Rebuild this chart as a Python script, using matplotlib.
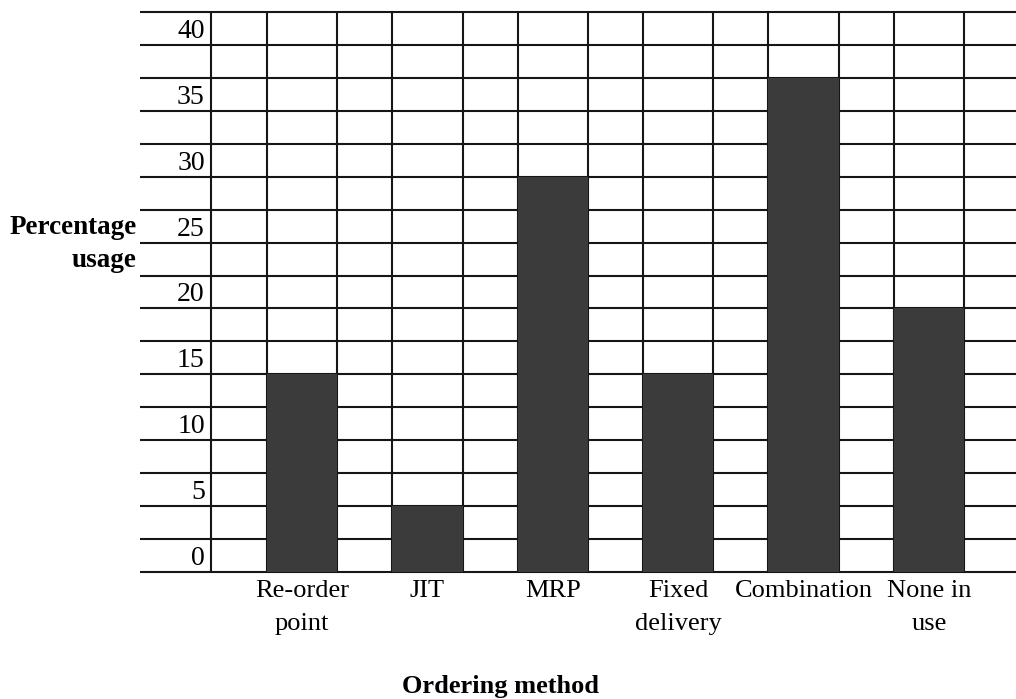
import matplotlib.pyplot as plt
import numpy as np

methods = ["Re-order\npoint", "JIT", "MRP", "Fixed\ndelivery", "Combination", "None in\nuse"]
usage = [15, 5, 30, 15, 37.5, 20]
tick_values = [0, 5, 10, 15, 20, 25, 30, 35, 40]

plt.rcParams['font.family'] = ['Liberation Serif', 'DejaVu Serif']

W, H = 1016, 699
fig = plt.figure(figsize=(W / 100, H / 100), dpi=100)

# axes box in pixels: left edge on the value column divider, right runs off the page
left_px, right_px, top_px, bottom_px = 211, 1030, 12, 572
ax = fig.add_axes([left_px / W, (H - bottom_px) / H,
                   (right_px - left_px) / W, (bottom_px - top_px) / H])

unit = 125.4            # pixels per category step
x0 = 302                # pixel centre of the first bar
xmin = (left_px - x0) / unit
xmax = (right_px - x0) / unit
row_left = (140 - x0) / unit
bar_w = 0.56
step = 2.5
ymax = 42.5

line_kw = dict(color='#161616', linewidth=1.5, zorder=1)

x = np.arange(len(methods))
ax.bar(x, usage, width=bar_w, color='#3b3b3b', zorder=2)

# table rules: horizontal every 2.5, vertical at each bar edge
ax.hlines(np.arange(0, ymax + 0.01, step), row_left, xmax + 0.5, clip_on=False, **line_kw)
edges = np.concatenate([x - bar_w / 2, x + bar_w / 2])
ax.vlines(edges, 0, ymax, **line_kw)
ax.vlines([xmin], 0, ymax, clip_on=False, **line_kw)

ax.set_xlim(xmin, xmax)
ax.set_ylim(0, ymax)
for s in ax.spines.values():
    s.set_visible(False)

ax.set_yticks([v + step / 2 for v in tick_values], [str(v) for v in tick_values])
ax.set_xticks(x, methods)
ax.tick_params(axis='y', length=0, pad=4.5, labelsize=20)
ax.tick_params(axis='x', length=0, pad=6, labelsize=19)
for lbl in ax.get_xticklabels():
    lbl.set_linespacing(1.6)

ax.set_ylabel("Percentage\nusage", rotation=0, fontsize=19.5, fontweight='bold',
              ha='right', va='center', multialignment='right', linespacing=1.45)
ax.yaxis.set_label_coords((137 - left_px) / (right_px - left_px), (bottom_px - 244) / (bottom_px - top_px))
ax.set_xlabel("Ordering method", fontsize=19, fontweight='bold', va='center')
ax.xaxis.set_label_coords((501 - left_px) / (right_px - left_px), (bottom_px - 687) / (bottom_px - top_px))

fig.savefig("out.png", dpi=100, facecolor='white')
